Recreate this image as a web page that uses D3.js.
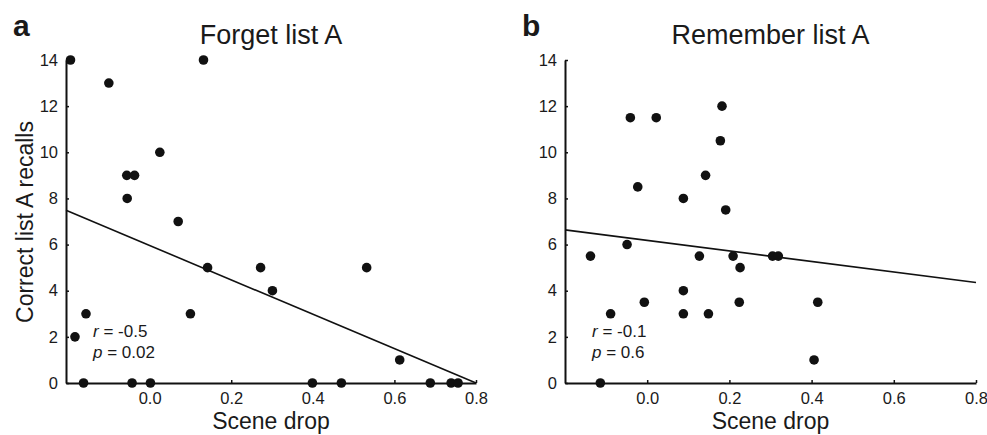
<!DOCTYPE html>
<html lang="en">
<head>
<meta charset="utf-8">
<title>Scene drop vs recalls</title>
<script src="https://cdn.jsdelivr.net/npm/d3@7"></script>
<style>
  body { margin: 0; background: #ffffff; }
  svg text { font-family: "Liberation Sans", Arial, Helvetica, sans-serif; fill: #1a1a1a; }
</style>
</head>
<body>
<script>
// panel a: Forget list A
var forgetX = [-0.194, -0.100, 0.132, 0.025, -0.056, -0.037, -0.055, 0.070,
               0.142, 0.272, 0.532, 0.301, -0.156, 0.100, -0.183, 0.613,
               -0.162, -0.043, 0.002, 0.399, 0.470, 0.688, 0.739, 0.756];
var forgetY = [14, 13, 14, 10, 9, 9, 8, 7,
               5, 5, 5, 4, 3, 3, 2, 1,
               0, 0, 0, 0, 0, 0, 0, 0];
var forgetFit = [5.96, -7.45];   // intercept, slope

// panel b: Remember list A
var rememberX = [0.182, -0.041, 0.022, 0.178, 0.142, -0.023, 0.088, 0.191,
                 -0.138, -0.049, 0.127, 0.209, 0.226, 0.305, 0.319, 0.088,
                 -0.007, 0.224, 0.415, -0.089, 0.088, 0.149, 0.406, -0.114];
var rememberY = [12, 11.5, 11.5, 10.5, 9, 8.5, 8, 7.5,
                 5.5, 6, 5.5, 5.5, 5, 5.5, 5.5, 4,
                 3.5, 3.5, 3.5, 3, 3, 3, 1, 0];
var rememberFit = [6.18, -2.28];

var xTicks = [0, 0.2, 0.4, 0.6, 0.8];
var yTicks = [0, 2, 4, 6, 8, 10, 12, 14];

var w = 987, h = 435;
var svg = d3.select("body").append("svg")
    .attr("width", w)
    .attr("height", h);

function drawPanel(opt) {
  var xScale = d3.scaleLinear().domain([opt.xmin, 0.8]).range([opt.left, opt.right]);
  var yScale = d3.scaleLinear().domain([0, 14]).range([383, 60]);

  var g = svg.append("g");

  // fit line
  var x0 = opt.xmin, x1 = 0.8;
  g.append("line")
    .attr("x1", xScale(x0)).attr("y1", yScale(opt.fit[0] + opt.fit[1] * x0))
    .attr("x2", xScale(x1)).attr("y2", yScale(Math.max(0, opt.fit[0] + opt.fit[1] * x1)))
    .attr("stroke", "#111").attr("stroke-width", 1.6);

  // axes
  var xAxis = d3.axisBottom(xScale).tickValues(xTicks)
      .tickFormat(d3.format(".1f")).tickSizeInner(-3).tickSizeOuter(0).tickPadding(9);
  var yAxis = d3.axisLeft(yScale).tickValues(yTicks)
      .tickSizeInner(-3).tickSizeOuter(0).tickPadding(8);

  var gx = g.append("g").attr("transform", "translate(0,383)").call(xAxis);
  var gy = g.append("g").attr("transform", "translate(" + opt.left + ",0)").call(yAxis);
  [gx, gy].forEach(function(a) {
    a.select(".domain").attr("stroke", "#111").attr("stroke-width", 2);
    a.selectAll(".tick line").attr("stroke", "#111").attr("stroke-width", 1.5);
    a.selectAll(".tick text").attr("font-size", 16.5).attr("fill", "#222")
      .attr("font-family", "Liberation Sans, Arial, sans-serif");
  });

  // points
  g.selectAll("circle")
    .data(opt.xs.map(function(d, i) { return [d, opt.ys[i]]; }))
    .enter()
    .append("circle")
    .attr("cx", function(d) { return xScale(d[0]); })
    .attr("cy", function(d) { return yScale(d[1]); })
    .attr("r", 4.8)
    .attr("fill", "#111");

  var cx = (opt.left + opt.right) / 2;

  // title
  g.append("text").attr("x", cx).attr("y", 44)
    .attr("text-anchor", "middle").attr("font-size", 27)
    .text(opt.title);

  // panel letter
  g.append("text").attr("x", opt.letterX).attr("y", 36)
    .attr("font-size", 30).attr("font-weight", "bold")
    .text(opt.letter);

  // x label
  g.append("text").attr("x", cx).attr("y", 429)
    .attr("text-anchor", "middle").attr("font-size", 23)
    .text("Scene drop");

  // stats
  var st = g.append("text").attr("x", opt.left + 27).attr("y", 337).attr("font-size", 17);
  st.append("tspan").attr("font-style", "italic").text("r");
  st.append("tspan").text(" = " + opt.r);
  var sp = g.append("text").attr("x", opt.left + 27).attr("y", 358).attr("font-size", 17);
  sp.append("tspan").attr("font-style", "italic").text("p");
  sp.append("tspan").text(" = " + opt.p);
}

drawPanel({ xs: forgetX, ys: forgetY, fit: forgetFit, xmin: -0.205, left: 66, right: 476,
            title: "Forget list A", letter: "a", letterX: 13, r: "-0.5", p: "0.02" });
drawPanel({ xs: rememberX, ys: rememberY, fit: rememberFit, xmin: -0.2, left: 565, right: 976,
            title: "Remember list A", letter: "b", letterX: 522, r: "-0.1", p: "0.6" });

// y label (left panel only)
svg.append("text")
  .attr("transform", "translate(33,222) rotate(-90)")
  .attr("text-anchor", "middle").attr("font-size", 23)
  .text("Correct list A recalls");
</script>
</body>
</html>
